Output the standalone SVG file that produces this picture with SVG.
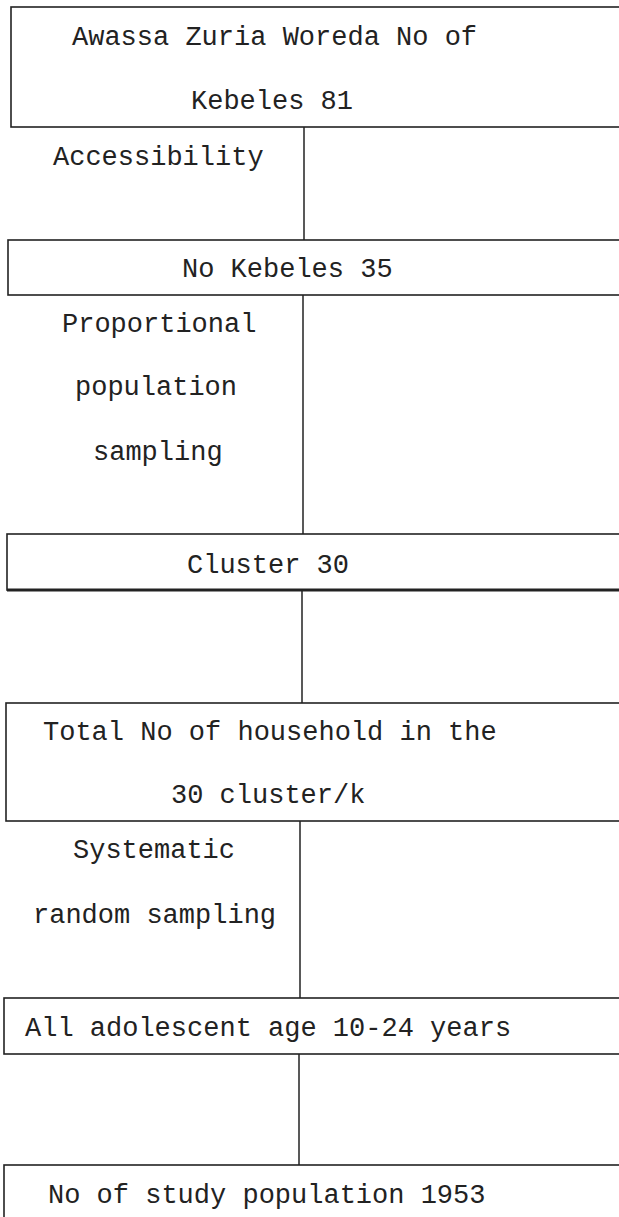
<svg xmlns="http://www.w3.org/2000/svg" width="619" height="1217" viewBox="0 0 619 1217">
<style>
.box{fill:#fff;stroke:#222;stroke-width:1.6}
.thick{stroke-width:2.6}
.conn{stroke:#222;stroke-width:1.5;fill:none}
text{font-family:"Liberation Mono","Courier New",monospace;font-size:27px;fill:#222}
</style>
<rect width="619" height="1217" fill="#fff"/>
<g id="connectors">
<line class="conn" x1="304" y1="127" x2="304" y2="240"/>
<line class="conn" x1="303" y1="295" x2="303" y2="534"/>
<line class="conn" x1="302" y1="590" x2="302" y2="703"/>
<line class="conn" x1="300" y1="821" x2="300" y2="998"/>
<line class="conn" x1="299" y1="1054" x2="299" y2="1165"/>
<text x="53" y="165">Accessibility</text>
<text x="62" y="332">Proportional</text>
<text x="75" y="395">population</text>
<text x="93" y="460">sampling</text>
<text x="73" y="858">Systematic</text>
<text x="33" y="923">random sampling</text>
</g>
<g id="node1">
<rect class="box" x="11" y="7" width="640" height="120"/>
<text x="72" y="45">Awassa Zuria Woreda No of</text>
<text x="191" y="109">Kebeles 81</text>
</g>
<g id="node2">
<rect class="box" x="8" y="240" width="640" height="55"/>
<text x="182" y="277">No Kebeles 35</text>
</g>
<g id="node3">
<rect class="box" x="7" y="534" width="640" height="56"/>
<line class="conn thick" x1="7" y1="590" x2="619" y2="590" style="stroke-width:3"/>
<text x="187" y="573">Cluster 30</text>
</g>
<g id="node4">
<rect class="box" x="6" y="703" width="640" height="118"/>
<text x="43" y="740">Total No of household in the</text>
<text x="171" y="803">30 cluster/k</text>
</g>
<g id="node5">
<rect class="box" x="4" y="998" width="640" height="56"/>
<text x="25" y="1036">All adolescent age 10-24 years</text>
</g>
<g id="node6">
<rect class="box" x="4" y="1165" width="640" height="80"/>
<text x="48" y="1203">No of study population 1953</text>
</g>
</svg>
